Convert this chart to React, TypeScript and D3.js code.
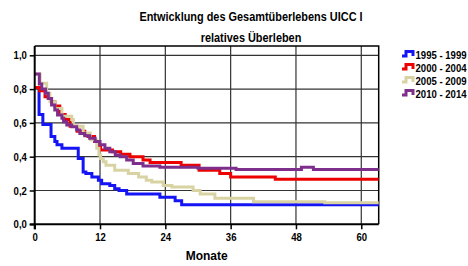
import React, { useRef, useEffect } from "react";
import * as d3 from "d3";

// Kaplan-Meier style step data (months, relative survival)
const series = ["1995 - 1999", "2000 - 2004", "2005 - 2009", "2010 - 2014"];
const colors = ["#1414f5", "#ec0000", "#d9d3a4", "#7e2f8c"];

const t1995 = [0, 0.8, 1.5, 3.0, 3.7, 4.1, 5.0, 8.0, 8.9, 9.4, 10.5, 11.7, 12.3, 13.8, 14.7, 15.5, 16.9, 23.0, 25.8, 27.0];
const v1995 = [0.81, 0.65, 0.59, 0.52, 0.49, 0.47, 0.45, 0.39, 0.31, 0.30, 0.28, 0.26, 0.24, 0.23, 0.21, 0.20, 0.18, 0.16, 0.14, 0.115];

const t2000 = [0, 0.9, 1.9, 2.5, 3.1, 3.7, 4.6, 5.6, 6.5, 7.8, 9.2, 9.8, 11.0, 11.7, 12.1, 14.3, 15.8, 17.5, 19.9, 21.2, 26.9, 30.2, 34.0, 36.0, 44.2];
const v2000 = [0.81, 0.79, 0.755, 0.745, 0.725, 0.70, 0.65, 0.62, 0.58, 0.55, 0.53, 0.52, 0.49, 0.46, 0.44, 0.43, 0.415, 0.40, 0.38, 0.365, 0.35, 0.32, 0.30, 0.28, 0.266];

const t2005 = [0, 1.0, 2.2, 2.8, 3.7, 5.0, 6.8, 7.1, 8.9, 10.2, 11.4, 11.8, 12.1, 12.6, 13.1, 14.7, 17.2, 19.1, 20.5, 21.5, 23.6, 25.2, 29.1, 30.4, 33.1, 40.2, 53.3];
const v2005 = [0.89, 0.835, 0.775, 0.725, 0.685, 0.64, 0.62, 0.58, 0.54, 0.50, 0.45, 0.41, 0.39, 0.37, 0.35, 0.32, 0.30, 0.28, 0.26, 0.25, 0.23, 0.22, 0.20, 0.18, 0.154, 0.134, 0.128];

const t2010 = [0, 0.85, 1.3, 2.0, 2.5, 3.1, 3.7, 4.2, 5.0, 5.3, 5.9, 6.8, 7.7, 8.3, 9.2, 10.1, 11.1, 12.0, 12.9, 13.8, 14.8, 15.7, 16.9, 18.1, 19.9, 23.0, 30.0, 37.0, 49.0, 51.2];
const v2010 = [0.89, 0.83, 0.80, 0.775, 0.745, 0.706, 0.676, 0.647, 0.627, 0.607, 0.587, 0.577, 0.558, 0.538, 0.524, 0.509, 0.49, 0.47, 0.45, 0.43, 0.41, 0.40, 0.38, 0.36, 0.345, 0.337, 0.331, 0.325, 0.337, 0.325];

const times = [t1995, t2000, t2005, t2010];
const values = [v1995, v2000, v2005, v2010];

const xTicks = [0, 12, 24, 36, 48, 60];
const yTicks = [0, 0.2, 0.4, 0.6, 0.8, 1.0];
const maxMonth = 63.2;

const FONT = "'Liberation Sans', Arial, sans-serif";
const NARROW = 0.87; // the original uses a condensed face

const App = () => {
  const ref = useRef(null);

  useEffect(() => {
    const svg = d3.select(ref.current);
    svg.selectAll("*").remove();

    const left = 34.7, right = 378.7, top = 46, bottom = 224.3;

    const x = d3.scaleLinear().domain([0, maxMonth]).range([left, right]);
    const y = d3.scaleLinear().domain([0, 1]).range([bottom, 55.3]);

    const label = (px, py, txt, size, sx, anchor = "middle") =>
      svg.append("text")
        .attr("transform", `translate(${px},${py}) scale(${sx},1)`)
        .attr("text-anchor", anchor)
        .attr("font-family", FONT).attr("font-weight", "bold").attr("font-size", size)
        .text(txt);

    // title
    label(251, 20.5, "Entwicklung des Gesamtüberlebens UICC I", 12, 0.91);
    label(251, 41.5, "relatives Überleben", 12, 0.91);

    // grid
    const grid = svg.append("g").attr("stroke", "#333").attr("stroke-width", 1.2);
    grid.selectAll(".vg").data(xTicks.slice(1)).enter().append("line")
      .attr("x1", d => x(d)).attr("x2", d => x(d))
      .attr("y1", top).attr("y2", bottom);
    grid.selectAll(".hg").data(yTicks.slice(1)).enter().append("line")
      .attr("x1", left).attr("x2", right)
      .attr("y1", d => y(d)).attr("y2", d => y(d));

    // frame
    svg.append("path")
      .attr("d", `M${left},${top}H${right}V${bottom}`)
      .attr("fill", "none").attr("stroke", "#000").attr("stroke-width", 1.5);

    // curves
    const stepLine = d3.line<[number, number]>()
      .x(d => x(d[0]))
      .y(d => y(d[1]))
      .curve(d3.curveStepAfter);

    series.forEach((name, i) => {
      const pts: [number, number][] = times[i].map((t, j) => [t, values[i][j]]);
      pts.push([maxMonth, values[i][values[i].length - 1]]);
      svg.append("path")
        .datum(pts)
        .attr("d", stepLine)
        .attr("fill", "none")
        .attr("stroke", colors[i])
        .attr("stroke-width", 3);
    });

    // axes
    const xAxis = svg.append("g")
      .attr("transform", `translate(0,${bottom})`)
      .call(d3.axisBottom(x).tickValues(xTicks).tickSize(5).tickPadding(4));
    xAxis.select(".domain").remove();
    xAxis.selectAll("line").attr("stroke", "#000").attr("stroke-width", 1.5);
    xAxis.selectAll("text")
      .attr("transform", `scale(${NARROW},1)`)
      .attr("font-family", FONT).attr("font-weight", "bold").attr("font-size", 11).attr("fill", "#000");

    const yAxis = svg.append("g")
      .attr("transform", `translate(${left},0)`)
      .call(d3.axisLeft(y).tickValues(yTicks).tickSize(5).tickPadding(3)
        .tickFormat(d => d3.format(".1f")(d as number).replace(".", ",")));
    yAxis.select(".domain").remove();
    yAxis.selectAll("line").attr("stroke", "#000").attr("stroke-width", 1.5);
    yAxis.selectAll("text")
      .attr("x", -9)
      .attr("transform", `scale(${NARROW},1)`)
      .attr("font-family", FONT).attr("font-weight", "bold").attr("font-size", 11).attr("fill", "#000");

    svg.append("line")
      .attr("x1", left).attr("x2", left).attr("y1", top).attr("y2", bottom + 5)
      .attr("stroke", "#000").attr("stroke-width", 2);
    svg.append("line")
      .attr("x1", left - 5).attr("x2", right).attr("y1", bottom).attr("y2", bottom)
      .attr("stroke", "#000").attr("stroke-width", 2);

    label((left + right) / 2, 260, "Monate", 12, 1);

    // legend
    const legend = svg.append("g").attr("transform", "translate(402,50)");
    series.forEach((name, i) => {
      const g = legend.append("g").attr("transform", `translate(0,${i * 13})`);
      g.append("path")
        .attr("d", "M0,6H4V1.5H11V6")
        .attr("fill", "none").attr("stroke", colors[i]).attr("stroke-width", 3);
      g.append("text")
        .attr("transform", `translate(13.5,8.5) scale(${NARROW},1)`)
        .attr("font-family", FONT).attr("font-weight", "bold").attr("font-size", 11)
        .text(name);
    });
  }, []);

  return (
    <svg
      ref={ref}
      width={468}
      height={266}
      style={{ position: "absolute", left: 0, top: 0, background: "#fff" }}
    />
  );
};

export default App;
